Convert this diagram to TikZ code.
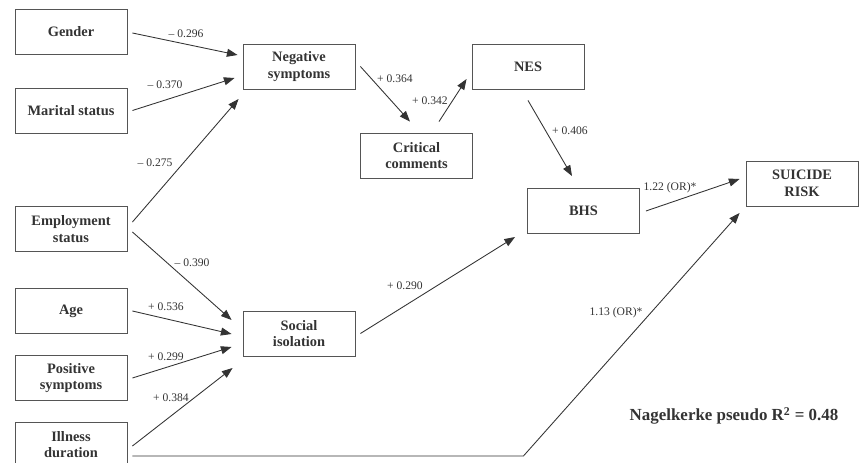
\documentclass[tikz,border=0pt]{standalone}
\usepackage{fontspec}
\setmainfont{Liberation Serif}
\usetikzlibrary{arrows.meta,calc}
\definecolor{ink}{HTML}{333333}
\definecolor{boxline}{HTML}{555555}
\begin{document}
\begin{tikzpicture}[x=0.75pt,y=-0.75pt,
 box/.style={draw=boxline,line width=0.65pt,minimum width=84pt,minimum height=33.75pt,inner sep=0pt,align=center,font=\fontsize{10.8}{12.5}\selectfont\bfseries,text=ink},
 lbl/.style={font=\fontsize{8.7}{10}\selectfont,text=ink,inner sep=0pt},
 arr/.style={draw=ink,line width=0.65pt,-{Triangle[length=8pt,width=6pt]}}]
\useasboundingbox (0,0) rectangle (867,463);
% boxes
\node[box] (gender) at (71,32) {Gender};
\node[box] (marital) at (71,110.5) {Marital status};
\node[box] (employ) at (71,229) {Employment\\status};
\node[box] (age) at (71,311) {Age};
\node[box] (pos) at (71,378) {Positive\\symptoms};
\node[box] (ill) at (71,444.5) {Illness\\duration};
\node[box] (neg) at (299,66.5) {Negative\\symptoms};
\node[box] (nes) at (528,66.5) {NES};
\node[box] (crit) at (416.5,155.5) {Critical\\comments};
\node[box] (bhs) at (583.5,211) {BHS};
\node[box] (suic) at (802,183.5) {SUICIDE\\RISK};
\node[box] (soc) at (299,333.5) {Social\\isolation};
% connectors
\draw[arr] ($(gender.east)+(5,1)$) -- ($(neg.west)+(-5,-11.5)$);
\draw[arr] ($(marital.east)+(5,0)$) -- ($(neg.west)+(-8,11.5)$);
\draw[arr] ($(employ.east)+(5,-7)$) -- ($(neg.west)+(-4,32.5)$);
\draw[arr] ($(employ.east)+(5,3)$) -- ($(soc.west)+(-11,-13.5)$);
\draw[arr] ($(age.east)+(5,0)$) -- ($(soc.west)+(-11,0.5)$);
\draw[arr] ($(pos.east)+(5,0)$) -- ($(soc.west)+(-11,13.5)$);
\draw[arr] ($(ill.east)+(5,1.5)$) -- ($(soc.west)+(-10,34.5)$);
\coordinate (bend) at ($(ill.east)+(396,11.5)$);
\draw[arr] ($(ill.east)+(5,11.5)$) -- (bend) -- ($(suic.west)+(-6,29.5)$);
\draw[arr] ($(neg.east)+(5,0)$) -- ($(crit.north)+(-6.5,-11)$);
\draw[arr] ($(crit.north)+(22.5,-11)$) -- ($(nes.west)+(-5,12.5)$);
\draw[arr] ($(nes.south)+(0,11)$) -- ($(bhs.north)+(-11.5,-12)$);
\draw[arr] ($(soc.east)+(5,0)$) -- ($(bhs.west)+(-12,26)$);
\draw[arr] ($(bhs.east)+(6,0)$) -- ($(suic.west)+(-6,-4.5)$);
% labels
\node[lbl] (l1) at (186,34) {-- 0.296};
\node[lbl] (l2) at (165,85) {-- 0.370};
\node[lbl] (l3) at (155,163) {-- 0.275};
\node[lbl] (l4) at (192,263) {-- 0.390};
\node[lbl] (l5) at (166,307) {+ 0.536};
\node[lbl] (l6) at (166,357) {+ 0.299};
\node[lbl] (l7) at (171,398) {+ 0.384};
\node[lbl] (l8) at (395,79) {+ 0.364};
\node[lbl] (l9) at (430,101) {+ 0.342};
\node[lbl] (l10) at (570,131) {+ 0.406};
\node[lbl] (l11) at (670,188) {1.22 (OR)*};
\node[lbl] (l12) at (616,313) {1.13 (OR)*};
\node[lbl] (l13) at (405,286) {+ 0.290};
\node[text=ink,inner sep=0pt,font=\fontsize{12.7}{14}\selectfont\bfseries] (r2) at (734,416) {Nagelkerke pseudo R\textsuperscript{2} = 0.48};
\end{tikzpicture}
\end{document}
